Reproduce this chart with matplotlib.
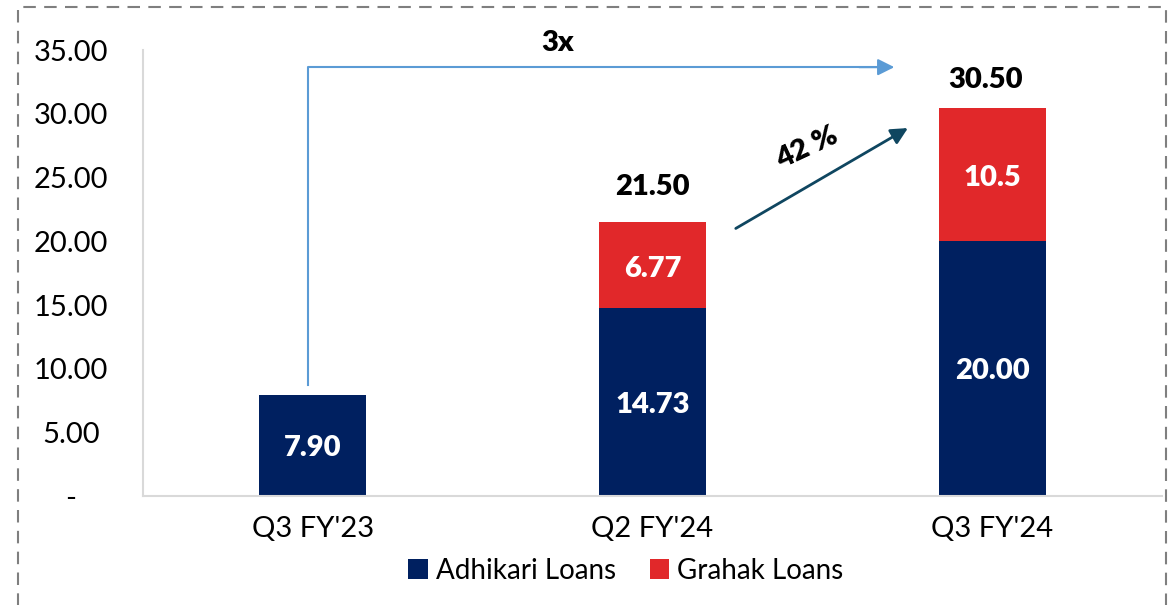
import numpy as np
import matplotlib
matplotlib.use("Agg")
import matplotlib.pyplot as plt
from matplotlib.patches import Rectangle

plt.rcParams['font.family'] = ['Lato', 'DejaVu Sans']

quarters = ["Q3 FY'23", "Q2 FY'24", "Q3 FY'24"]
adhikari = [7.90, 14.73, 20.00]
grahak = [0.0, 6.77, 10.5]
adhikari_lbl = ['7.90', '14.73', '20.00']
grahak_lbl = ['', '6.77', '10.5']
totals = [None, 21.50, 30.50]

navy = '#002060'
red = '#e1282a'

fig = plt.figure(figsize=(11.7, 6.05), dpi=100)
ax = fig.add_axes([0.1222, 0.180, 0.871, 0.737])

x = np.arange(len(quarters))
w = 0.315
ax.bar(x, adhikari, w, color=navy, label='Adhikari Loans')
ax.bar(x, grahak, w, bottom=adhikari, color=red, label='Grahak Loans')

for i in range(len(quarters)):
    ax.text(x[i], adhikari[i] / 2 - 0.2, adhikari_lbl[i], ha='center', va='center',
            color='white', fontsize=21, fontweight='heavy')
    if grahak[i] > 0:
        ax.text(x[i], adhikari[i] + grahak[i] / 2 - 0.3, grahak_lbl[i], ha='center',
                va='center', color='white', fontsize=21, fontweight='heavy')
    if totals[i] is not None:
        off = 2.8 if i == 1 else 2.15
        ax.text(x[i] - 0.02 * (i == 2), totals[i] + off, '%.2f' % totals[i], ha='center',
                va='center', color='black', fontsize=21, fontweight='heavy')

# 3x arrow
ax.plot([-0.015, -0.015, 1.70], [8.7, 33.67, 33.67], color='#5b9bd5', lw=1.5)
ax.annotate('', xy=(1.72, 33.67), xytext=(1.6, 33.67),
            arrowprops=dict(arrowstyle='-|>', color='#5b9bd5', lw=1.5, mutation_scale=25))
ax.text(0.72, 35.6, '3x', ha='center', va='center', fontsize=21, fontweight='heavy')

# 42 % arrow
ax.annotate('', xy=(1.759, 29.0), xytext=(1.238, 20.9),
            arrowprops=dict(arrowstyle='-|>', color='#0f4660', lw=2, mutation_scale=25))
ax.text(1.456, 27.3, '42 %', ha='center', va='center', fontsize=21, fontweight='heavy',
        rotation=25)

ax.set_xlim(-0.5, 2.5)
ax.set_ylim(0, 35)
ax.set_yticks(np.arange(0, 36, 5))
ax.set_yticklabels(['-'] + ['%.2f' % v for v in np.arange(5, 36, 5)], fontsize=21)
ax.set_xticks(x)
ax.set_xticklabels(quarters, fontsize=21)
ax.tick_params(length=0)
ax.tick_params(axis='y', pad=52)
ax.tick_params(axis='x', pad=14)
for s in ['top', 'right']:
    ax.spines[s].set_visible(False)
for s in ['left', 'bottom']:
    ax.spines[s].set_color('#d9d9d9')
    ax.spines[s].set_linewidth(1.5)
for lbl in ax.get_yticklabels():
    lbl.set_horizontalalignment('center')

leg = fig.legend(loc='center', bbox_to_anchor=(0.535, 0.057), ncol=2, frameon=False,
                 fontsize=20, handlelength=0.7, handleheight=0.7, handletextpad=0.3,
                 columnspacing=1.2)

fig.patches.append(Rectangle((18 / 1170, -0.05), (1166 - 18) / 1170, 1.05 - 7 / 605,
                             transform=fig.transFigure, fill=False, edgecolor='#7f7f7f',
                             lw=1.5, linestyle=(0, (6, 4)), clip_on=False))

fig.savefig('out.png', dpi=100)
